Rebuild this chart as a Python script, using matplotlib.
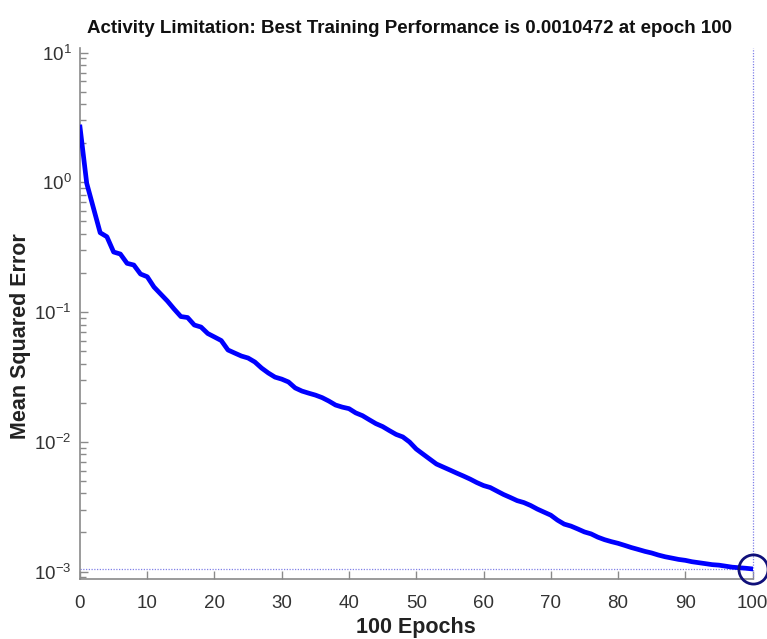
import matplotlib
matplotlib.use("Agg")
import matplotlib.pyplot as plt
from matplotlib.ticker import LogLocator, FixedLocator

plt.rcParams['font.family'] = ['Liberation Sans', 'DejaVu Sans']
plt.rcParams['mathtext.fontset'] = 'custom'
plt.rcParams['mathtext.rm'] = 'Liberation Sans'
plt.rcParams['mathtext.default'] = 'regular'
plt.rcParams['axes.unicode_minus'] = False

epochs = list(range(0, 101))
mse = [2.666, 0.982, 0.633, 0.4086, 0.3804, 0.2901, 0.2799, 0.2373, 0.2303, 0.1963,
       0.1871, 0.1559, 0.1376, 0.1215, 0.1054, 0.0923, 0.0907, 0.0794, 0.0766, 0.0683,
       0.0642, 0.0603, 0.0510, 0.0483, 0.0458, 0.0442, 0.0412, 0.0370, 0.0339, 0.0315,
       0.0304, 0.0289, 0.0260, 0.0246, 0.0237, 0.0229, 0.0219, 0.0206, 0.0192, 0.0185,
       0.0180, 0.0167, 0.0159, 0.0148, 0.0138, 0.0131, 0.0122, 0.0114, 0.0109, 0.00996,
       0.00879, 0.00804, 0.00736, 0.00674, 0.00639, 0.00606, 0.00574, 0.00545, 0.00516, 0.00485,
       0.00460, 0.00444, 0.00417, 0.00392, 0.00372, 0.00352, 0.00340, 0.00323, 0.00303, 0.00287,
       0.00272, 0.00249, 0.00232, 0.00224, 0.00213, 0.00202, 0.00195, 0.00184, 0.00176, 0.00170,
       0.00165, 0.00159, 0.00153, 0.00148, 0.00143, 0.00139, 0.00134, 0.00130, 0.00127, 0.00124,
       0.00122, 0.00119, 0.00117, 0.00115, 0.00113, 0.00112, 0.00110, 0.00108, 0.00107, 0.00106,
       0.0010472]
best_epoch = 100
best_value = 0.0010472
x_ticks = [0, 10, 20, 30, 40, 50, 60, 70, 80, 90, 100]

title = "Activity Limitation: Best Training Performance is 0.0010472 at epoch 100"

fig = plt.figure(figsize=(7.67, 6.39), dpi=100)
ax = fig.add_axes([0.1043, 0.0934, 0.8768, 0.8315])

ax.plot(epochs, mse, color='#0000ff', lw=3.4, solid_joinstyle='round', zorder=3)
ax.axvline(best_epoch, color='#8080e8', lw=0.9, ls=(0, (1, 1.2)), zorder=2, clip_on=False)
ax.axhline(best_value, color='#8080e8', lw=0.9, ls=(0, (1, 1.2)), zorder=2)
ax.plot([best_epoch], [best_value], marker='o', ms=21, mfc='none', mec='#10107a',
        mew=2.0, clip_on=False, zorder=4)

ax.set_yscale('log')
ax.set_xlim(0, 100)
ax.set_ylim(10 ** -3.06, 10 ** 1.035)
ax.xaxis.set_major_locator(FixedLocator(x_ticks))
ax.yaxis.set_major_locator(LogLocator(base=10, numticks=10))
ax.yaxis.set_minor_locator(LogLocator(base=10, subs=range(2, 10), numticks=50))

for s in ['top', 'right']:
    ax.spines[s].set_visible(False)
for s in ['left', 'bottom']:
    ax.spines[s].set_color('#8a8a8a')
    ax.spines[s].set_linewidth(1.2)

ax.tick_params(axis='both', which='major', direction='in', length=6, width=1,
               color='#8a8a8a', labelcolor='#333333', labelsize=13.5)
ax.tick_params(axis='y', which='minor', direction='in', length=4, width=1, color='#8a8a8a')
ax.tick_params(axis='x', which='major', pad=11)
ax.tick_params(axis='y', which='major', pad=6)

ax.set_title(title, fontsize=13.5, fontweight='bold', color='#111111', pad=11, x=0.49)
ax.set_xlabel('100 Epochs', fontsize=15.5, fontweight='bold', color='#222222')
ax.set_ylabel('Mean Squared Error', fontsize=15.5, fontweight='bold', color='#222222')
ax.yaxis.set_label_coords(-0.073, 0.457)
ax.xaxis.set_label_coords(0.5, -0.07)

fig.savefig('out.png', dpi=100)
